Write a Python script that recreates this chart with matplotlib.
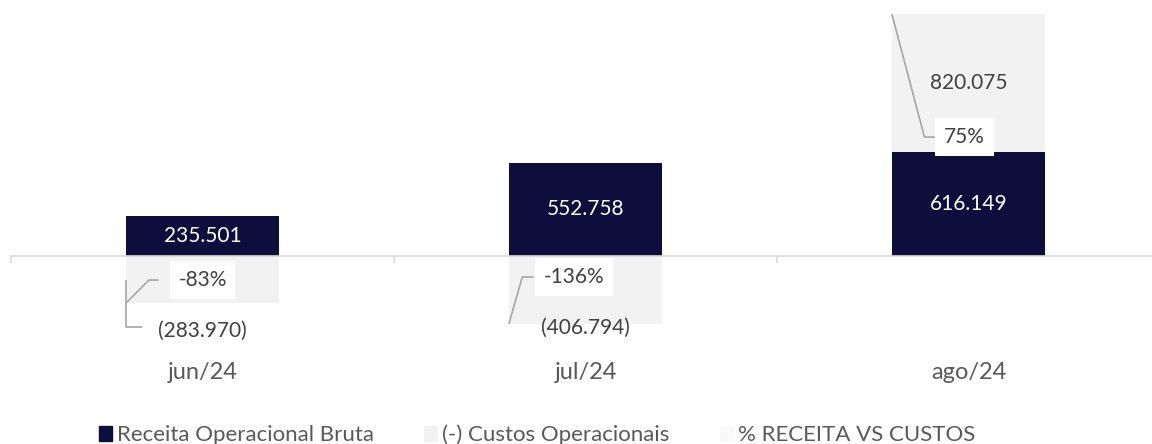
import matplotlib.pyplot as plt
from matplotlib.patches import Patch
import numpy as np

plt.rcParams['font.family'] = ['Lato', 'DejaVu Sans']

meses = ['jun/24', 'jul/24', 'ago/24']
receita = [235501, 552758, 616149]
custos = [-283970, -406794, 820075]
custos_txt = ['(283.970)', '(406.794)', '820.075']
pct_txt = ['-83%', '-136%', '75%']

navy = '#0e0e3c'
cinza = '#f2f2f2'
eixo = '#d9d9d9'
txt = '#404040'

x = np.arange(len(meses))
larg = 0.4

fig = plt.figure(figsize=(11.52, 4.44), dpi=100)
ax = fig.add_axes([11 / 1152, 0, 1149 / 1152, 1])

# custos negativos ficam abaixo do zero, positivos empilhados sobre a receita
base_custos = [r if c > 0 else 0 for r, c in zip(receita, custos)]
ax.bar(x, receita, larg, color=navy, zorder=2)
ax.bar(x, custos, larg, bottom=base_custos, color=cinza, zorder=1)

ax.set_xlim(-0.5, 2.5)
ax.set_ylim(-1122000, 1521000)

for s in ['top', 'left', 'right']:
    ax.spines[s].set_visible(False)
ax.spines['bottom'].set_position(('data', 0))
ax.spines['bottom'].set_color(eixo)
ax.spines['bottom'].set_linewidth(1.2)
ax.set_xticks([-0.5, 0.5, 1.5, 2.5])
ax.set_xticklabels([])
ax.tick_params(axis='x', direction='out', length=5, color=eixo, width=1.2)
ax.set_yticks([])

# rotulos da receita
for i, r in enumerate(receita):
    ax.text(x[i], r / 2, f'{r:,}'.replace(',', '.'), ha='center', va='center',
            color='white', fontsize=15, zorder=3)

# rotulos dos custos (posicoes ajustadas a mao como no original)
custos_y = [-449000, -432000, receita[2] + custos[2] / 2]
for i in range(3):
    ax.text(x[i], custos_y[i], custos_txt[i], ha='center', va='center',
            color=txt, fontsize=15, zorder=3)

# categorias
for i, m in enumerate(meses):
    ax.text(x[i], -695000, m, ha='center', va='center', color='#595959',
            fontsize=17)

# % receita vs custos
pct_pos = [(0.0, -146000), (0.97, -128000), (1.99, 705000)]
caixa = dict(boxstyle='square,pad=0.42', fc='white', ec='none')
for (px, py), t in zip(pct_pos, pct_txt):
    ax.text(px, py, t, ha='center', va='center', color=txt, fontsize=15,
            bbox=caixa, zorder=4)

# linhas de chamada
lc = dict(color='#a6a6a6', lw=1.2, zorder=3, solid_capstyle='butt')
ax.plot([-0.115, -0.14, -0.2], [-146000, -146000, custos[0]], **lc)
ax.plot([-0.2, -0.2, -0.158], [-146000, -426000, -426000], **lc)
ax.plot([0.865, 0.835, 0.8], [-128000, -128000, custos[1]], **lc)
ax.plot([1.912, 1.885, 1.8], [705000, 705000, receita[2] + custos[2]], **lc)

handles = [Patch(color=navy), Patch(color=cinza), Patch(color='#f9f9f9')]
labels = ['Receita Operacional Bruta', '(-) Custos Operacionais', '% RECEITA VS CUSTOS']
fig.legend(handles, labels, loc='center', bbox_to_anchor=(537 / 1152, 1 - 435 / 444),
           ncol=3, frameon=False, fontsize=16, handlelength=0.6, handleheight=0.6,
           handletextpad=0.23, columnspacing=2.25, labelcolor='#595959')

fig.savefig('out.png', dpi=100)
